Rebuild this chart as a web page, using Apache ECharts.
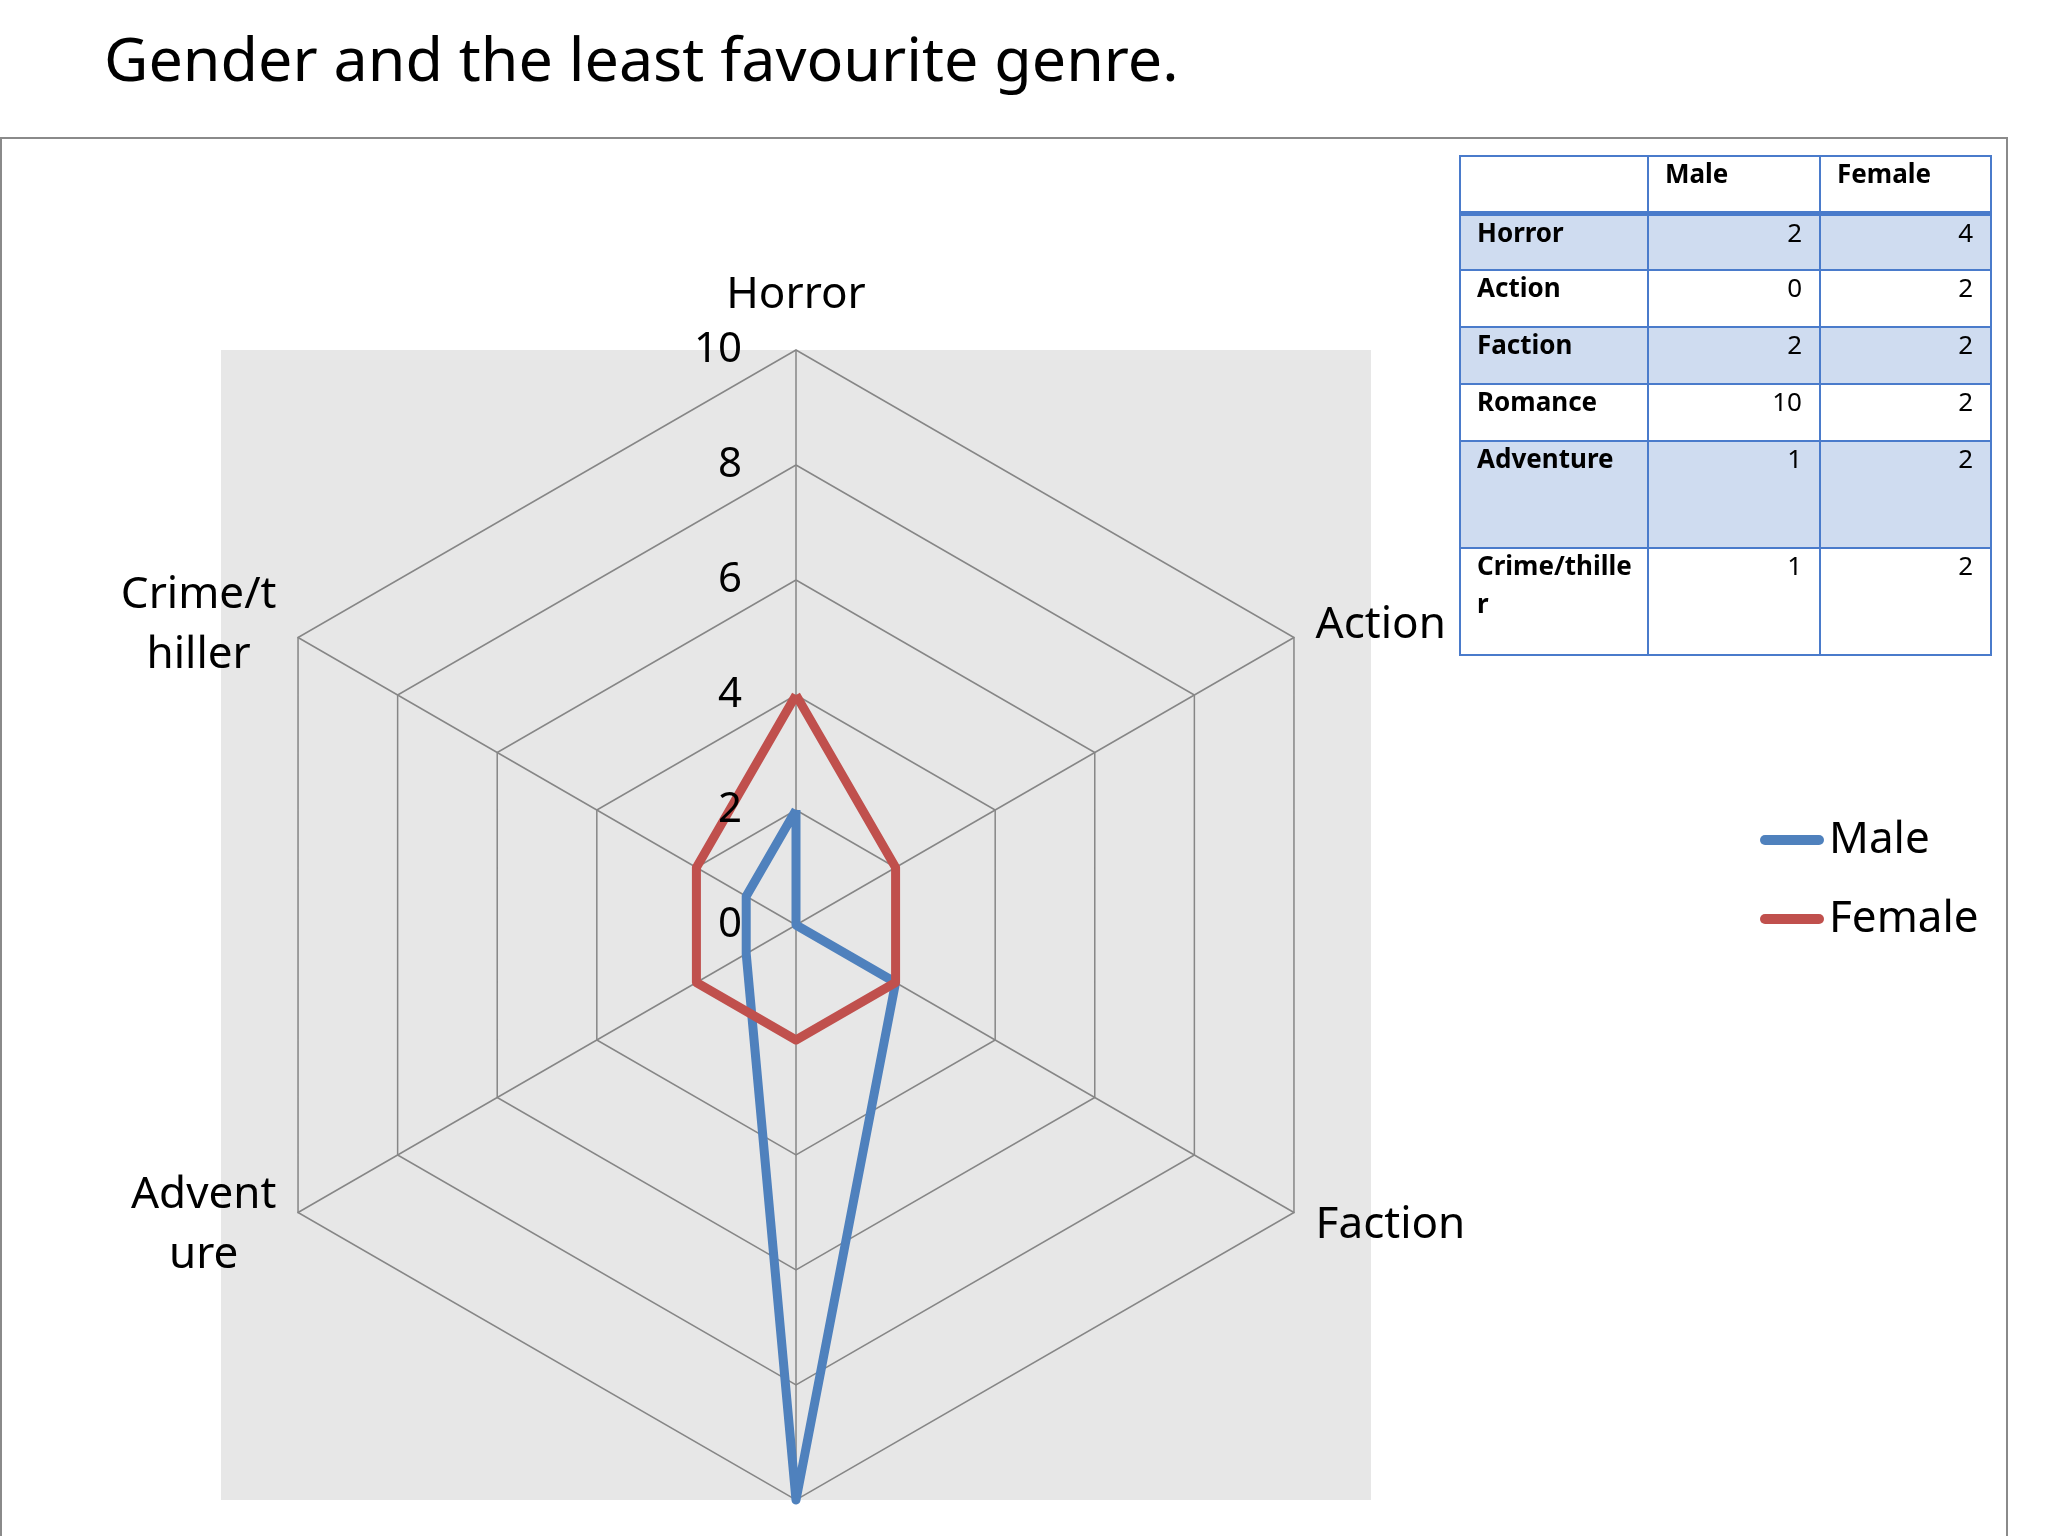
<!DOCTYPE html>
<html>
<head>
<meta charset="utf-8">
<title>Gender and the least favourite genre.</title>
<script src="https://cdn.jsdelivr.net/npm/echarts@6/dist/echarts.min.js"></script>
<style>
    html, body { margin: 0; padding: 0; background: #fff; }
    #chart { width: 2048px; height: 1536px; }
    #table {
        position: absolute; left: 1459px; top: 155px; width: 531px;
        border-collapse: collapse; table-layout: fixed;
        font-family: 'Noto Sans', sans-serif; font-size: 26px; line-height: 38px; color: #000;
    }
    #table td { border: 2px solid #4a7bcb; vertical-align: top; padding: 0 17px 0 16px; height: 57px; box-sizing: border-box; }
    #table td div { margin-top: -3px; }
    #table tr.head td { font-weight: bold; border-bottom: 5px solid #4a7bcb; }
    #table tr.band td { background: #cfdcf0; }
    #table td.name { font-weight: bold; padding-right: 14px; word-break: break-all; }
    #table td.num { text-align: right; }
    #table tr.tall td { height: 107px; }
</style>
</head>
<body>
<div id="chart"></div>
<table id="table">
    <colgroup><col style="width:188px"><col style="width:172px"><col style="width:171px"></colgroup>
    <tbody id="tbody"></tbody>
</table>
<script>
    // 数据
    var genres = ['Horror', 'Action', 'Faction', 'Romance', 'Adventure', 'Crime/thiller'];
    var axisNames = ['Horror', 'Action', 'Faction', 'Romance', 'Advent\nure', 'Crime/t\nhiller'];
    var seriesNames = ['Male', 'Female'];
    var maleValues = [2, 0, 2, 10, 1, 1];
    var femaleValues = [4, 2, 2, 2, 2, 2];
    var colors = ['#4f81bd', '#c0504d'];

    // 雷达图按逆时针排列: 上, 左上, 左下, 下, 右下, 右上
    var order = [0, 5, 4, 3, 2, 1];

    var indicators = [];
    var labelIndicators = [];
    var maleData = [];
    var femaleData = [];
    for (var i = 0; i < order.length; i++) {
        var k = order[i];
        indicators.push({ name: axisNames[k], min: 0, max: 10 });
        labelIndicators.push({ name: '', min: 0, max: 10, axisLabel: { show: k === 0 } });
        maleData.push(maleValues[k]);
        femaleData.push(femaleValues[k]);
    }

    // 表格
    function cell(cls, text) {
        return '<td class="' + cls + '"><div>' + text + '</div></td>';
    }
    var rows = '<tr class="head">' + cell('', '') + cell('', seriesNames[0]) + cell('', seriesNames[1]) + '</tr>';
    for (var j = 0; j < genres.length; j++) {
        var cls = (j % 2 === 0 ? 'band' : '') + (j >= 4 ? ' tall' : '');
        rows += '<tr class="' + cls + '">' + cell('name', genres[j]) + cell('num', maleValues[j]) +
            cell('num', femaleValues[j]) + '</tr>';
    }
    document.getElementById('tbody').innerHTML = rows;

    var cx = 796, cy = 925, r = 575;
    var font = 'Noto Sans';

    var myChart = echarts.init(document.getElementById('chart'));
    var option = {
        backgroundColor: '#fff',
        animation: false,
        title: {
            text: 'Gender and the least favourite genre.',
            left: 99,
            top: 28,
            textStyle: { fontFamily: font, fontSize: 61, fontWeight: 'normal', color: '#000' }
        },
        graphic: [{
            type: 'rect',
            z: -20,
            shape: { x: 1, y: 138, width: 2006, height: 1500 },
            style: { fill: '#fff', stroke: '#8a8a8a', lineWidth: 2 }
        }, {
            type: 'rect',
            z: -10,
            shape: { x: cx - r, y: cy - r, width: 2 * r, height: 2 * r },
            style: { fill: '#e7e7e7' }
        }],
        legend: {
            orient: 'vertical',
            left: 1755,
            top: 812,
            itemWidth: 64,
            itemHeight: 10,
            itemGap: 33,
            icon: 'path://M5,0 L59,0 A5,5 0 0 1 59,10 L5,10 A5,5 0 0 1 5,0 Z',
            textStyle: { fontFamily: font, fontSize: 44, lineHeight: 46, color: '#000' },
            data: seriesNames
        },
        radar: [{
            center: [cx, cy],
            radius: r,
            startAngle: 90,
            shape: 'polygon',
            splitNumber: 5,
            nameGap: 25,
            indicator: indicators,
            axisName: {
                color: '#000',
                fontFamily: font,
                fontSize: 44,
                formatter: function (name) {
                    return name.split('\n').map(function (s) { return '{c|' + s + '}'; }).join('\n');
                },
                rich: {
                    c: { align: 'center', fontFamily: font, fontSize: 44, lineHeight: 60, color: '#000' }
                }
            },
            axisLabel: { show: false },
            axisTick: { show: false },
            axisLine: { lineStyle: { color: '#868686', width: 1.5 } },
            splitLine: { lineStyle: { color: '#868686', width: 1.5 } },
            splitArea: { show: false }
        }, {
            // 刻度标签放在折线上面
            z: 10,
            center: [cx, cy],
            radius: r,
            startAngle: 90,
            shape: 'polygon',
            splitNumber: 5,
            indicator: labelIndicators,
            axisName: { show: false },
            axisLabel: {
                show: false,
                margin: 54,
                padding: [8, 0, 0, 0],
                color: '#000',
                fontFamily: font,
                fontSize: 42,
                showMinLabel: true,
                showMaxLabel: true
            },
            axisTick: { show: false },
            axisLine: { show: false },
            splitLine: { show: false },
            splitArea: { show: false }
        }],
        series: [{
            type: 'radar',
            radarIndex: 0,
            symbol: 'none',
            data: [{
                name: seriesNames[0],
                value: maleData,
                itemStyle: { color: colors[0] },
                lineStyle: { color: colors[0], width: 9, join: 'round' }
            }, {
                name: seriesNames[1],
                value: femaleData,
                itemStyle: { color: colors[1] },
                lineStyle: { color: colors[1], width: 9, join: 'round' }
            }]
        }]
    };
    myChart.setOption(option);
</script>
</body>
</html>
